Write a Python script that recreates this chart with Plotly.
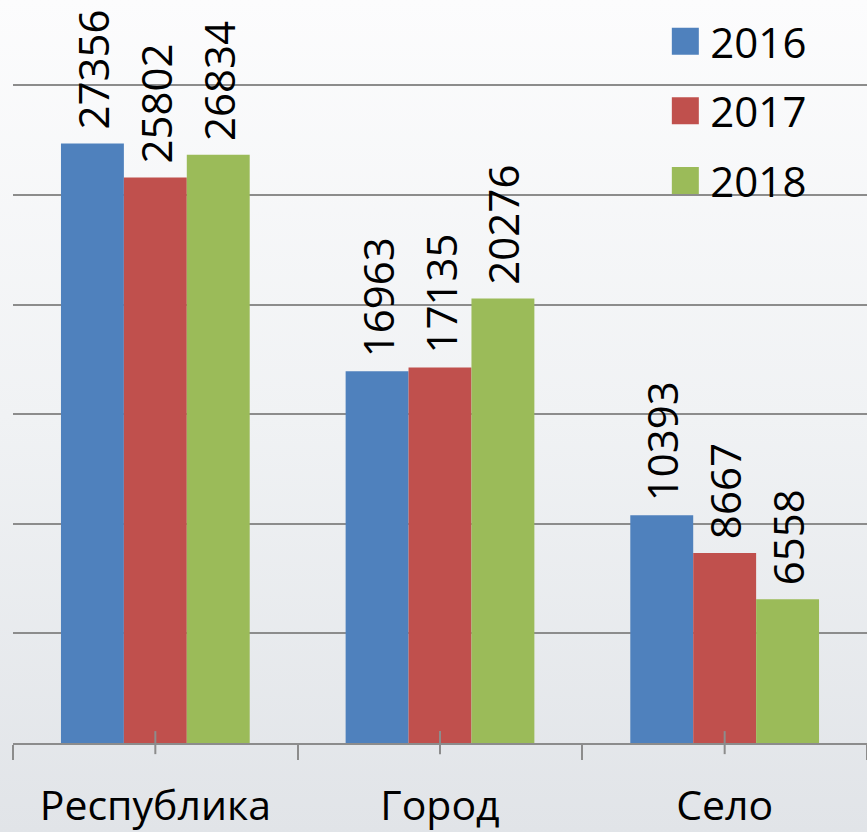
import urllib.parse
import plotly.graph_objects as go

categories = ['Республика', 'Город', 'Село']
years = ['2016', '2017', '2018']
values_2016 = [27356, 16963, 10393]
values_2017 = [25802, 17135, 8667]
values_2018 = [26834, 20276, 6558]
colors = ['#4f81bd', '#c0504d', '#9bbb59']

series = [values_2016, values_2017, values_2018]

fig = go.Figure()
for name, vals, col in zip(years, series, colors):
    fig.add_trace(go.Bar(
        x=categories, y=vals, name=name,
        marker=dict(color=col, line=dict(width=0)),
        text=['\u00a0' + str(v) for v in vals],
        textposition='outside', textangle=-90, constraintext='none',
        textfont=dict(size=42, color='black'),
        cliponaxis=False,
        legendgroup=name,
    ))

# small centre ticks crossing the category axis
for i in range(len(categories)):
    fig.add_shape(type='line', xref='x', yref='paper', x0=i, x1=i, y0=-0.015, y1=0.016,
                  line=dict(color='#8c8c8c', width=2))

# soft vertical gradient behind the chart
svg = ('<svg xmlns="http://www.w3.org/2000/svg" width="100" height="100" preserveAspectRatio="none">'
       '<defs><linearGradient id="g" x1="0" y1="0" x2="0" y2="1">'
       '<stop offset="0" stop-color="#fcfcfd"/><stop offset="0.5" stop-color="#f0f2f4"/>'
       '<stop offset="1" stop-color="#e1e4e8"/></linearGradient></defs>'
       '<rect width="100" height="100" fill="url(#g)"/></svg>')
bg = 'data:image/svg+xml;charset=utf-8,' + urllib.parse.quote(svg)
fig.add_layout_image(source=bg, xref='paper', yref='paper', x=-0.02, y=1.0, xanchor='left',
                     yanchor='top', sizex=1.05, sizey=1.12, sizing='stretch', layer='below')

fig.update_layout(
    width=867, height=832,
    margin=dict(l=13, r=0, t=0, b=86),
    paper_bgcolor='#f0f2f4',
    plot_bgcolor='rgba(0,0,0,0)',
    font=dict(family='Open Sans', color='black', size=38),
    barmode='group', bargap=0.337, bargroupgap=0,
    legend=dict(x=0.758, y=0.99, xanchor='left', yanchor='top',
                font=dict(size=42), bgcolor='rgba(0,0,0,0)', itemwidth=40,
                traceorder='grouped', tracegroupgap=12),
    showlegend=True,
)
fig.update_xaxes(
    range=[-0.5, 2.5], showline=True, linecolor='#8c8c8c', linewidth=2,
    ticks='outside', tickson='boundaries', ticklen=15, tickcolor='#8c8c8c', tickwidth=2,
    tickfont=dict(size=41), ticklabelstandoff=26, showgrid=False,
)
fig.update_yaxes(
    range=[0, 33900], dtick=5000, showgrid=True, gridcolor='#8c8c8c', gridwidth=1.5,
    showticklabels=False, zeroline=False,
)

# bigger legend swatches, like the original
post = """
document.body.style.margin='0';
document.querySelectorAll('.legendpoints path').forEach(function(p){
  p.setAttribute('d','M13.5,13.5H-13.5V-13.5H13.5Z');
});
"""
fig.write_html('out.html', post_script=post, config={'displayModeBar': False})
